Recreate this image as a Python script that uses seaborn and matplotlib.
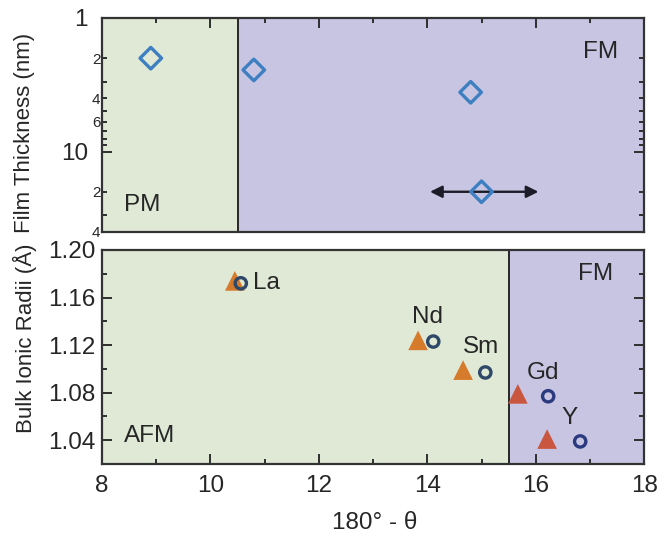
import matplotlib
matplotlib.use("Agg")
import matplotlib.pyplot as plt
from matplotlib.ticker import FixedLocator, FuncFormatter, MultipleLocator, FormatStrFormatter
import pandas as pd
import seaborn as sns

# ---- upper panel: film thickness (nm) against 180° - θ ----
film_theta = [8.9, 10.8, 14.8, 15.0]
film_thickness_nm = [2.0, 2.45, 3.6, 20.0]
arrow_span = [14.05, 16.05]
arrow_thickness = 20.0

# ---- lower panel: bulk ionic radii of the rare-earth ions ----
elements = ["La", "Nd", "Sm", "Gd", "Y"]
tri_theta = [10.45, 13.83, 14.66, 15.67, 16.21]
tri_radii = [1.174, 1.124, 1.099, 1.079, 1.041]
circ_theta = [10.56, 14.11, 15.07, 16.23, 16.82]
circ_radii = [1.172, 1.123, 1.097, 1.077, 1.039]

# phase boundaries in 180° - θ
top_boundary = 10.5
bottom_boundary = 15.5

# axis ticks
thickness_major = [1, 10]
thickness_minor = [2, 3, 4, 5, 6, 7, 8, 9, 20, 30, 40]
thickness_minor_labels = {2: "2", 4: "4", 6: "6", 20: "2", 40: "4"}

GREEN = "#dfe9d6"
PURPLE = "#c7c5e2"
DIAMOND = "#3d7fc1"
ORANGE = "#d67a2c"
RED = "#c9573f"
SLATE = "#2f4868"
NAVY = "#2b3a7f"
INK = "#262626"

sns.set_theme(style="ticks")
plt.rcParams["font.family"] = ["Liberation Sans", "DejaVu Sans"]
plt.rcParams["text.color"] = INK

film = pd.DataFrame({"theta": film_theta, "thickness": film_thickness_nm})
bulk = pd.DataFrame({
    "element": elements,
    "tri_theta": tri_theta, "tri_radii": tri_radii,
    "circ_theta": circ_theta, "circ_radii": circ_radii,
})
tri_colors = [ORANGE, ORANGE, ORANGE, RED, RED]
circ_colors = [SLATE, SLATE, SLATE, NAVY, NAVY]

fig = plt.figure(figsize=(6.71, 5.36), dpi=100)
ax1 = fig.add_axes([0.152, 0.5672, 0.808, 0.3993])
ax2 = fig.add_axes([0.152, 0.1343, 0.808, 0.3993])


def style_axes(ax):
    ax.set_axisbelow(False)
    for sp in ax.spines.values():
        sp.set_color("#333333")
        sp.set_linewidth(1.6)
        sp.set_zorder(5)
    ax.tick_params(which="both", direction="in", color="#2e2e2e", width=1.4,
                   labelcolor=INK)
    ax.tick_params(which="major", length=7.5)
    ax.tick_params(which="minor", length=3.8)


# ---------------- upper panel ----------------
ax1.set_yscale("log")
ax1.set_xlim(8, 18)
ax1.set_ylim(40, 1)
ax1.axvspan(8, top_boundary, color=GREEN, zorder=0, lw=0)
ax1.axvspan(top_boundary, 18, color=PURPLE, zorder=0, lw=0)
ax1.axvline(top_boundary, color=INK, lw=1.4, zorder=1)

sns.scatterplot(data=film, x="theta", y="thickness", marker="D", s=120,
                color=DIAMOND, ax=ax1, zorder=3, legend=False)
pc = ax1.collections[-1]
pc.set_facecolor("none")
pc.set_edgecolor(DIAMOND)
pc.set_linewidth(2.4)

ax1.annotate("", xy=(arrow_span[1], arrow_thickness),
             xytext=(arrow_span[0], arrow_thickness),
             arrowprops=dict(arrowstyle="<|-|>", color="#1c1c28", lw=1.7,
                             mutation_scale=18, shrinkA=0, shrinkB=0),
             zorder=2)

ax1.text(8.41, 25.1, "PM", fontsize=17.5, ha="left", va="center")
ax1.text(17.52, 1.8, "FM", fontsize=17.5, ha="right", va="center")

style_axes(ax1)
ax1.tick_params(axis="x", which="both", top=True, bottom=False,
                labelbottom=False, labeltop=False)
ax1.tick_params(axis="y", which="both", left=True, right=True)
ax1.xaxis.set_major_locator(MultipleLocator(2))
ax1.xaxis.set_minor_locator(MultipleLocator(1))
ax1.yaxis.set_major_locator(FixedLocator(thickness_major))
ax1.yaxis.set_minor_locator(FixedLocator(thickness_minor))
ax1.yaxis.set_major_formatter(FuncFormatter(lambda v, p: f"{v:g}"))
ax1.yaxis.set_minor_formatter(
    FuncFormatter(lambda v, p: thickness_minor_labels.get(int(round(v)), "")))
ax1.tick_params(axis="y", which="major", labelsize=17.5, pad=10)
ax1.tick_params(axis="y", which="minor", labelsize=11, pad=1.2)
ax1.set_xlabel("")
ax1.set_ylabel("")

# ---------------- lower panel ----------------
ax2.set_xlim(8, 18)
ax2.set_ylim(1.02, 1.20)
ax2.axvspan(8, bottom_boundary, color=GREEN, zorder=0, lw=0)
ax2.axvspan(bottom_boundary, 18, color=PURPLE, zorder=0, lw=0)
ax2.axvline(bottom_boundary, color=INK, lw=1.4, zorder=1)

sns.scatterplot(data=bulk, x="tri_theta", y="tri_radii", marker="^", s=200,
                hue="element", palette=dict(zip(elements, tri_colors)),
                ax=ax2, zorder=3, legend=False, linewidth=0)
sns.scatterplot(data=bulk, x="circ_theta", y="circ_radii", marker="o", s=66,
                color=NAVY, ax=ax2, zorder=4, legend=False)
pc = ax2.collections[-1]
pc.set_facecolor("none")
pc.set_edgecolor(circ_colors)
pc.set_linewidth(2.4)

label_pos = {
    "La": (10.78, 1.172, "left"),
    "Nd": (14.0, 1.144, "center"),
    "Sm": (15.0, 1.118, "center"),
    "Gd": (16.14, 1.0964, "center"),
    "Y": (16.63, 1.0585, "center"),
}
for el in elements:
    x, y, ha = label_pos[el]
    ax2.text(x, y, el, fontsize=17.5, ha=ha, va="center")

ax2.text(17.43, 1.180, "FM", fontsize=17.5, ha="right", va="center")
ax2.text(8.41, 1.0434, "AFM", fontsize=17.5, ha="left", va="center")

style_axes(ax2)
ax2.tick_params(axis="x", which="both", top=False, bottom=True)
ax2.tick_params(axis="y", which="both", left=True, right=True)
ax2.xaxis.set_major_locator(MultipleLocator(2))
ax2.xaxis.set_minor_locator(MultipleLocator(1))
ax2.yaxis.set_major_locator(MultipleLocator(0.04))
ax2.yaxis.set_minor_locator(MultipleLocator(0.02))
ax2.yaxis.set_major_formatter(FormatStrFormatter("%.2f"))
ax2.tick_params(axis="x", which="major", labelsize=17.5, pad=8)
ax2.tick_params(axis="y", which="major", labelsize=17.5, pad=4.5)
ax2.set_xlabel("")
ax2.set_ylabel("")

# axis titles
fig.text(25 / 671, 0.752, "Film Thickness (nm)", rotation=90, fontsize=16,
         ha="center", va="center")
fig.text(25 / 671, 0.369, "Bulk Ionic Radii (Å)", rotation=90, fontsize=16,
         ha="center", va="center")
fig.text(375 / 671, 1 - 523 / 536, "180° - θ", fontsize=17.5,
         ha="center", va="center")

fig.savefig("out.png", dpi=100, facecolor="white")
